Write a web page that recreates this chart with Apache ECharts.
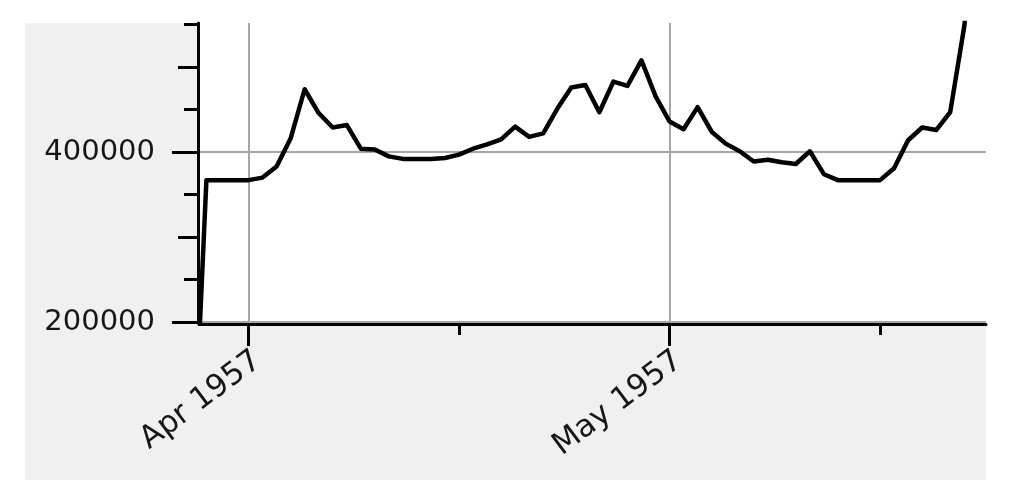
<!DOCTYPE html>
<html><head><meta charset="utf-8">
<script src="https://cdn.jsdelivr.net/npm/echarts@6/dist/echarts.min.js"></script>
<style>html,body{margin:0;padding:0;background:#fff}#c{width:1009px;height:504px}</style>
</head><body><div id="c"></div>
<script>
// ---- data ----
const startDate = '1957-03-28';           // first daily observation
const values = [
  0, 367000, 367000, 367000, 367000, 370000, 383000, 416000, 474000, 446000,
  429000, 432000, 404000, 403000, 395000, 392000, 392000, 392000, 393000, 397000,
  404000, 409000, 415000, 430000, 418000, 422000, 451000, 476000, 479000, 447000,
  483000, 478000, 508000, 466000, 436000, 427000, 453000, 424000, 410000, 401000,
  389000, 391000, 388000, 386000, 401000, 374000, 367000, 367000, 367000, 367000,
  381000, 414000, 429000, 426000, 447000, 548000, 700000
];
const yLabelTicks = [200000, 400000];
const yMidTicks = [300000, 500000];
const yMinorTicks = [250000, 350000, 450000, 550000];
const xLabelDates = ['1957-04-01', '1957-05-01'];
const xMinorDates = ['1957-04-16', '1957-05-16'];
const monthNames = ['Jan','Feb','Mar','Apr','May','Jun','Jul','Aug','Sep','Oct','Nov','Dec'];
const yMin = 200000, yMax = 552000;
const xMinStr = '1957-03-28T11:21:00Z', xMaxStr = '1957-05-23T13:12:00Z';

// ---- build ----
const DAY = 86400000;
const t0 = Date.parse(startDate + 'T00:00:00Z');
const seriesData = values.map((v, i) => [t0 + i * DAY, v]);
const ts = s => Date.parse(s + 'T00:00:00Z');
const xMin = Date.parse(xMinStr), xMax = Date.parse(xMaxStr);
const FONT = 'DejaVu Sans';
const black = '#000';
const gridGray = '#a6a6a6';
const textCol = '#161616';
const fmtDate = v => { const d = new Date(v); return monthNames[d.getUTCMonth()] + ' ' + d.getUTCFullYear(); };

function xAxisCfg(tickVals, len, main) {
  return {
    type: 'value', min: xMin, max: xMax, position: 'bottom', offset: 2, scale: true,
    axisLine: { show: main, onZero: false, lineStyle: { color: black, width: 3 } },
    axisTick: { show: true, customValues: tickVals, length: len, lineStyle: { color: black, width: 3 } },
    axisLabel: main ? {
      show: true, customValues: tickVals, rotate: 37, margin: 21,
      align: 'right', verticalAlign: 'top',
      fontFamily: FONT, fontSize: 31, color: textCol, formatter: fmtDate
    } : { show: false },
    splitLine: { show: main, lineStyle: { color: gridGray, width: 2 } }
  };
}
function yAxisCfg(tickVals, len, main) {
  return {
    type: 'value', min: yMin, max: yMax, position: 'left', offset: 1,
    axisLine: { show: main, onZero: false, lineStyle: { color: black, width: 3 } },
    axisTick: { show: true, customValues: tickVals, length: len, lineStyle: { color: black, width: 3 } },
    axisLabel: main ? {
      show: true, customValues: tickVals, margin: 43,
      fontFamily: FONT, fontSize: 29, color: textCol, formatter: v => String(v)
    } : { show: false },
    splitLine: { show: main, lineStyle: { color: gridGray, width: 2 } }
  };
}

const chart = echarts.init(document.getElementById('c'), null, { renderer: 'canvas' });
chart.setOption({
  animation: false,
  backgroundColor: '#ffffff',
  graphic: [{ type: 'rect', z: -100, silent: true,
    shape: { x: 25, y: 23, width: 961, height: 457 }, style: { fill: '#f0f0f0' } }],
  grid: { left: 199, right: 23, top: 23, bottom: 182, show: true, backgroundColor: '#ffffff', borderWidth: 0 },
  xAxis: [
    xAxisCfg(xLabelDates.map(ts), 22, true),
    xAxisCfg(xMinorDates.map(ts), 11, false)
  ],
  yAxis: [
    yAxisCfg(yLabelTicks, 26, true),
    yAxisCfg(yMidTicks, 20, false),
    yAxisCfg(yMinorTicks, 14, false)
  ],
  series: [{
    type: 'line', xAxisIndex: 0, yAxisIndex: 0, data: seriesData,
    showSymbol: false, symbol: 'none', clip: true, smooth: false,
    lineStyle: { color: black, width: 4.5, join: 'round', cap: 'round' }, z: 5
  }]
});
</script></body></html>
